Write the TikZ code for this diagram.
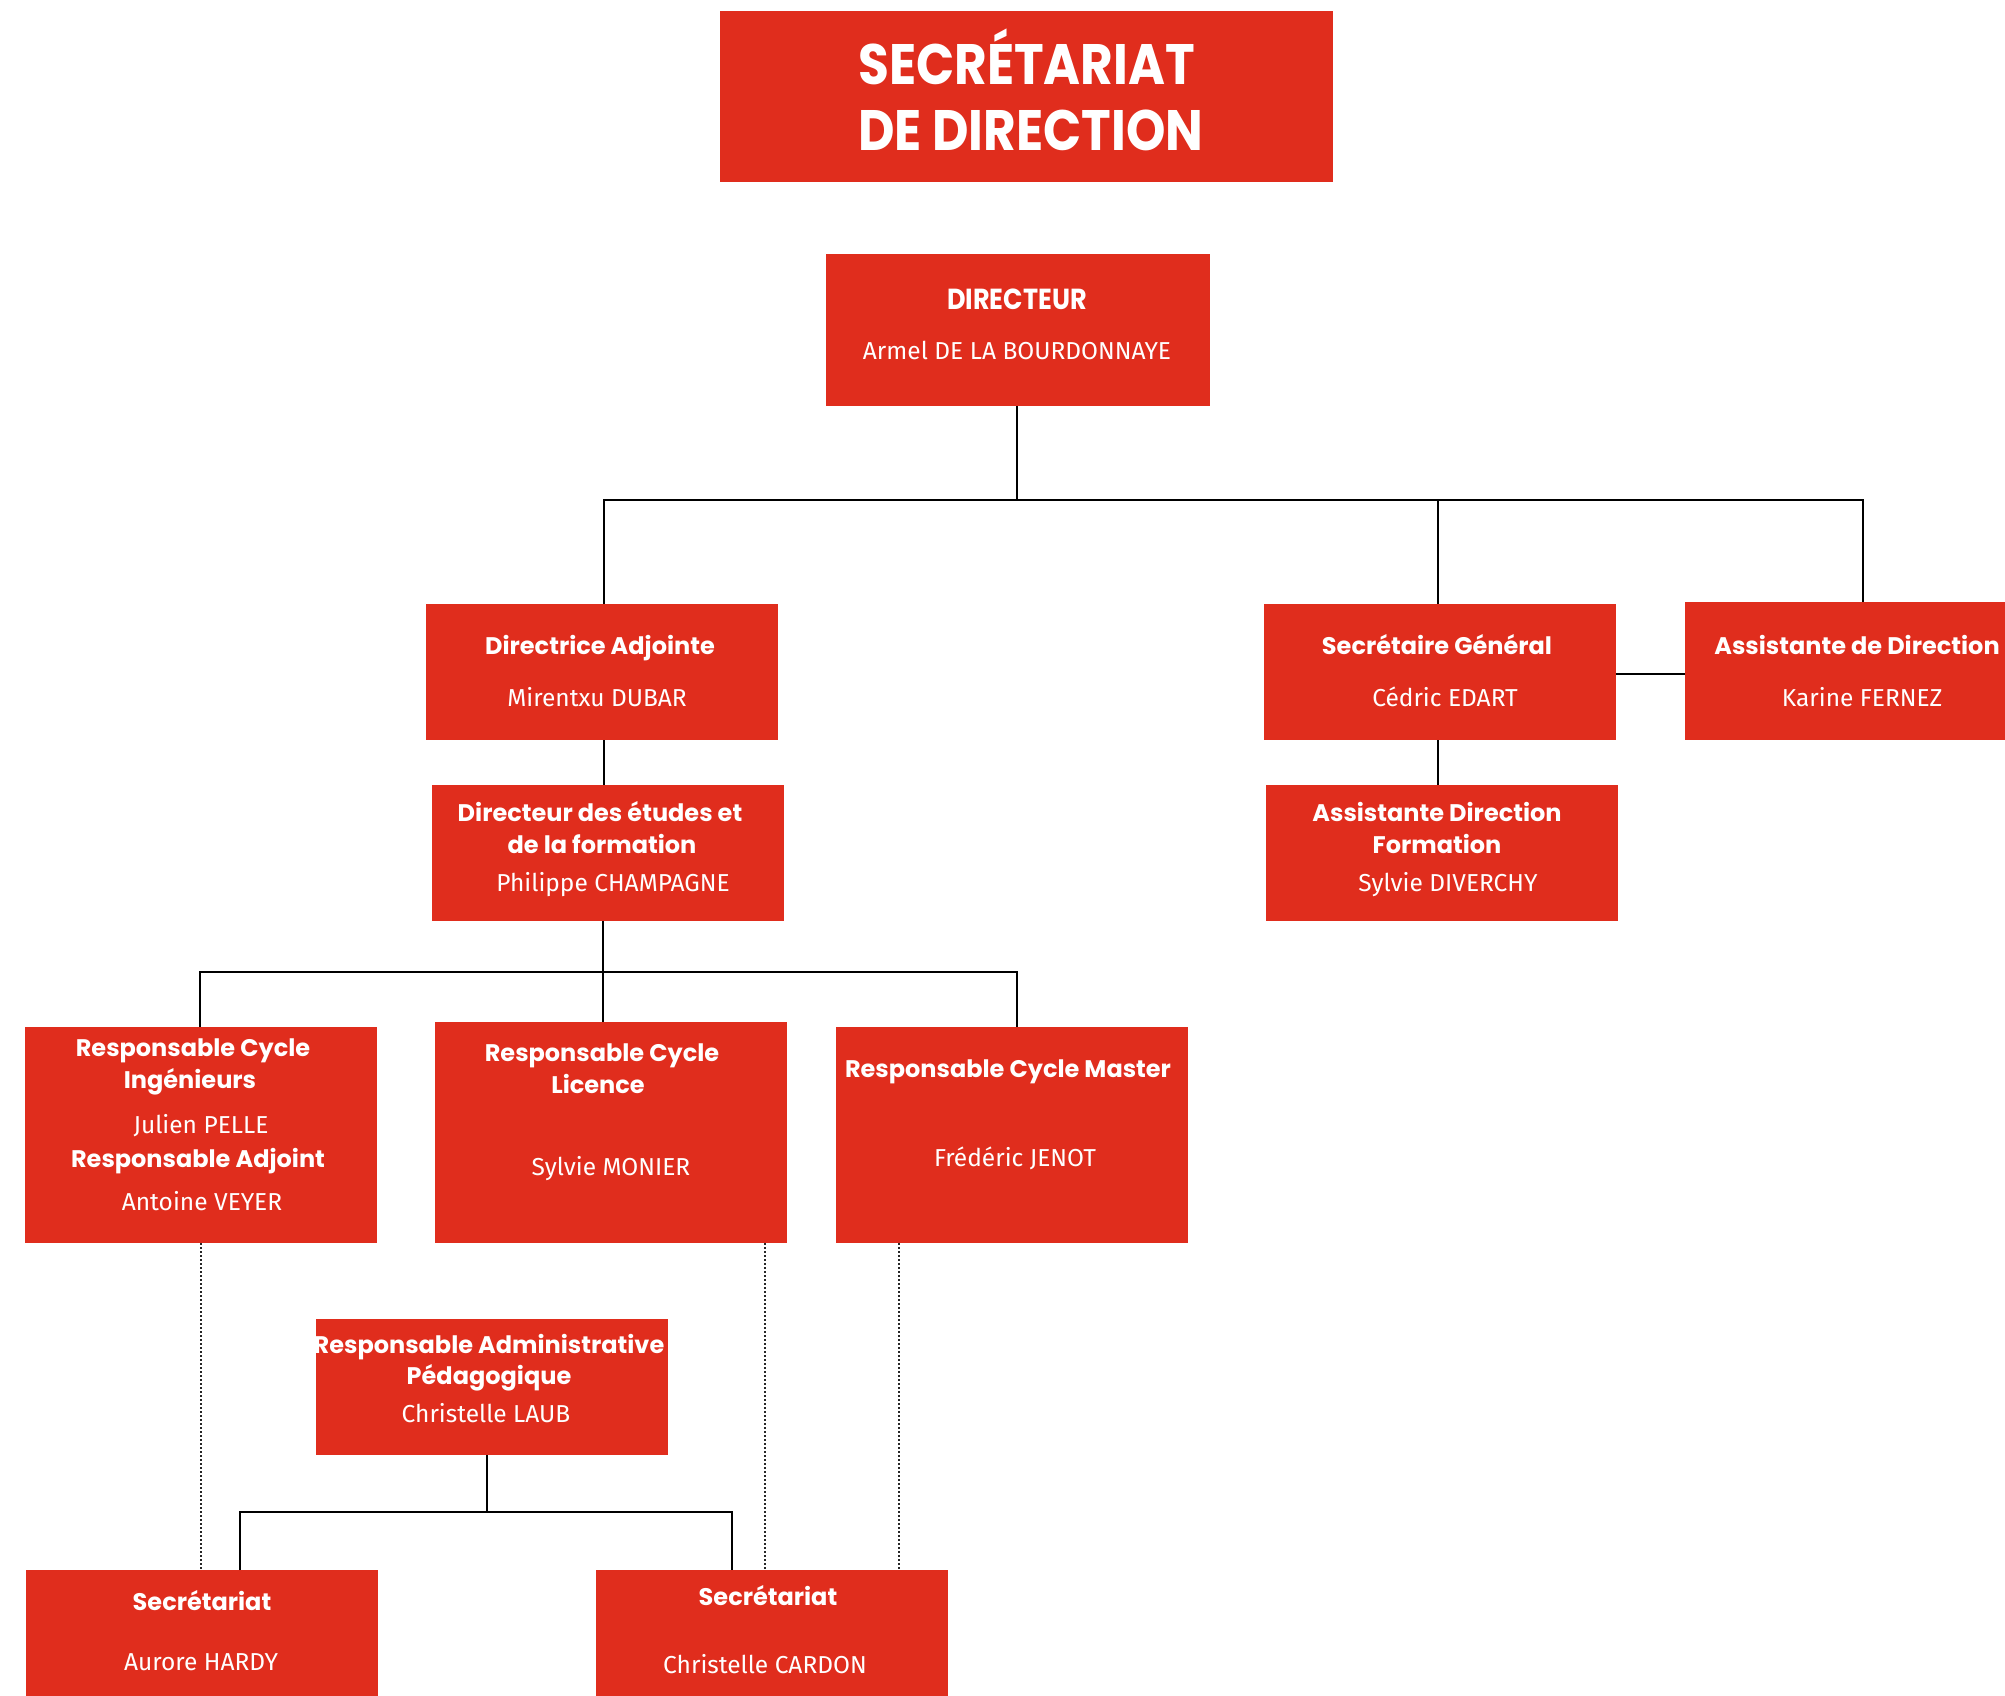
\documentclass[tikz,border=0pt]{standalone}
\usepackage{fontspec}
\setmainfont{Fira Sans}
\newfontfamily\hfont{Poppins}
\newfontfamily\tfont{Poppins}[FakeStretch=0.88]
\definecolor{boxred}{RGB}{224,45,29}
\tikzset{
  box/.style={fill=boxred, draw=none, inner sep=0pt, outer sep=0pt, rectangle},
  head/.style={text=white, font=\hfont\bfseries\fontsize{24}{28}\selectfont, anchor=base, inner sep=0pt},
  bighead/.style={text=white, font=\tfont\bfseries\fontsize{29}{32}\selectfont, anchor=base, inner sep=0pt},
  pname/.style={text=white, font=\fontsize{24.5}{28}\selectfont, anchor=base, inner sep=0pt},
  ttl/.style={text=white, font=\tfont\bfseries\fontsize{57}{60}\selectfont, anchor=base west, inner sep=0pt},
  link/.style={draw=black, line width=2pt},
  dotlink/.style={draw=black!85, line width=1.5pt, dash pattern=on 2pt off 2pt},
}
\begin{document}
\begin{tikzpicture}[x=1pt,y=-1pt]
\useasboundingbox (0,0) rectangle (2005,1696);
\clip (0,0) rectangle (2005,1696);
\fill[white] (0,0) rectangle (2005,1696);

% boxes
\node[box, minimum width=613pt, minimum height=171pt] (title) at (1026.5,96.5) {};
\node[box, minimum width=384pt, minimum height=152pt] (dir) at (1018,330) {};
\node[box, minimum width=352pt, minimum height=136pt] (da) at (602,672) {};
\node[box, minimum width=352pt, minimum height=136pt] (de) at (608,853) {};
\node[box, minimum width=352pt, minimum height=136pt] (sg) at (1440,672) {};
\node[box, minimum width=352pt, minimum height=138pt] (ad) at (1861,671) {};
\node[box, minimum width=352pt, minimum height=136pt] (adf) at (1442,853) {};
\node[box, minimum width=352pt, minimum height=216pt] (ing) at (201,1135) {};
\node[box, minimum width=352pt, minimum height=221pt] (lic) at (611,1132.5) {};
\node[box, minimum width=352pt, minimum height=216pt] (mas) at (1012,1135) {};
\node[box, minimum width=352pt, minimum height=136pt] (rap) at (492,1387) {};
\node[box, minimum width=352pt, minimum height=136pt] (secl) at (202,1638) {};
\node[box, minimum width=352pt, minimum height=136pt] (secr) at (772,1638) {};

% texts
\node[ttl] (t1) at (858,85) {SECRÉTARIAT};
\node[ttl] (t2) at (858,151) {DE DIRECTION};

\node[bighead] (dirh) at (1017,309) {DIRECTEUR};
\node[pname] (dirn) at (1017,359) {Armel DE LA BOURDONNAYE};

\node[head] (dah) at (600,654) {Directrice Adjointe};
\node[pname] (dan) at (597,706) {Mirentxu DUBAR};

\node[head] (deh1) at (600,821) {Directeur des études et};
\node[head] (deh2) at (602,853) {de la formation};
\node[pname] (den) at (613,891) {Philippe CHAMPAGNE};

\node[head] (sgh) at (1437,654) {Secrétaire Général};
\node[pname] (sgn) at (1445,706) {Cédric EDART};

\node[head] (adh) at (1857,654) {Assistante de Direction};
\node[pname] (adn) at (1862,706) {Karine FERNEZ};

\node[head] (adfh1) at (1437,821) {Assistante Direction};
\node[head] (adfh2) at (1437,853) {Formation};
\node[pname] (adfn) at (1448,891) {Sylvie DIVERCHY};

\node[head] (ingh1) at (193,1056) {Responsable Cycle};
\node[head] (ingh2) at (190,1088) {Ingénieurs};
\node[pname] (ingn1) at (201,1133) {Julien PELLE};
\node[head] (ingh3) at (198,1167) {Responsable Adjoint};
\node[pname] (ingn2) at (202,1210) {Antoine VEYER};

\node[head] (lich1) at (602,1061) {Responsable Cycle};
\node[head] (lich2) at (598,1093) {Licence};
\node[pname] (licn) at (611,1175) {Sylvie MONIER};

\node[head] (mash) at (1008,1077) {Responsable Cycle Master};
\node[pname] (masn) at (1015,1166) {Frédéric JENOT};

\node[head] (raph1) at (489,1353) {Responsable Administrative};
\node[head] (raph2) at (489,1384) {Pédagogique};
\node[pname] (rapn) at (486,1422) {Christelle LAUB};

\node[head] (seclh) at (202,1610) {Secrétariat};
\node[pname] (secln) at (201,1670) {Aurore HARDY};

\node[head] (secrh) at (768,1605) {Secrétariat};
\node[pname] (secrn) at (765,1673) {Christelle CARDON};

% connector coordinates
\coordinate (bus1) at (1017,500);
\coordinate (bus2) at (603,972);
\coordinate (bus3) at (487,1512);
\coordinate (xda) at (604,0);
\coordinate (xsg) at (1438,0);
\coordinate (xad) at (1863,0);
\coordinate (xing) at (200,0);
\coordinate (xmas) at (1017,0);
\coordinate (xsl) at (240,0);
\coordinate (xsr) at (732,0);
\coordinate (xdi) at (201,0);
\coordinate (xdl) at (765,0);
\coordinate (xdm) at (899,0);

% solid connectors
\draw[link] (dir.south -| bus1) -- (bus1);
\draw[link] (da.north -| xda) -- (xda |- bus1) -- (xad |- bus1) -- (ad.north -| xad);
\draw[link] (sg.north -| xsg) -- (xsg |- bus1);
\draw[link] (sg.east |- 0,674) -- (ad.west |- 0,674);
\draw[link] (da.south -| xda) -- (de.north -| xda);
\draw[link] (sg.south -| xsg) -- (adf.north -| xsg);
\draw[link] (de.south -| bus2) -- (bus2);
\draw[link] (ing.north -| xing) -- (xing |- bus2) -- (xmas |- bus2) -- (mas.north -| xmas);
\draw[link] (bus2) -- (lic.north -| bus2);
\draw[link] (rap.south -| bus3) -- (bus3);
\draw[link] (secl.north -| xsl) -- (xsl |- bus3) -- (xsr |- bus3) -- (secr.north -| xsr);

% dotted connectors
\draw[dotlink] (ing.south -| xdi) -- (secl.north -| xdi);
\draw[dotlink] (lic.south -| xdl) -- (secr.north -| xdl);
\draw[dotlink] (mas.south -| xdm) -- (secr.north -| xdm);
\end{tikzpicture}
\end{document}
